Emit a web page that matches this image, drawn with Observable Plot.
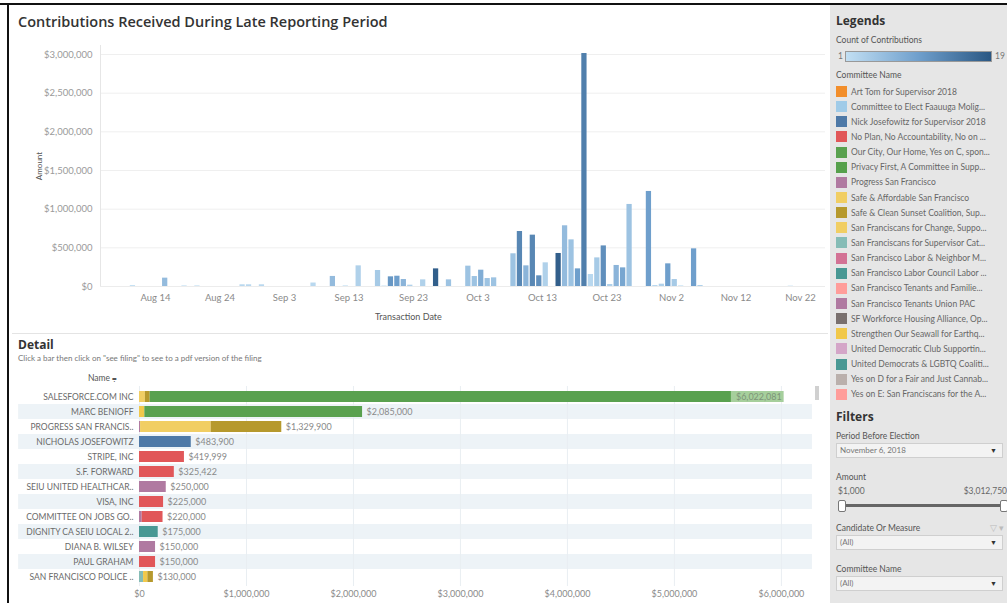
<!DOCTYPE html>
<html><head><meta charset="utf-8">
<script src="https://cdn.jsdelivr.net/npm/d3@7"></script>
<script src="https://cdn.jsdelivr.net/npm/@observablehq/plot@0.6"></script>
<style>
body{margin:0;width:1007px;height:603px;overflow:hidden;background:#fff;font-family:Lato,"Open Sans",sans-serif;position:relative}
.abs{position:absolute;white-space:nowrap}
#title{left:18px;top:12px;font:600 14.5px "Open Sans",sans-serif;color:#333}
#panel{left:830px;top:5px;width:177px;height:598px;background:#e6e6e6}
.h{font:700 12px "Open Sans",sans-serif;color:#333}
.lab{font-size:8.5px;color:#555}
.item{font-size:8.5px;color:#666;height:15.15px;line-height:12px;display:flex;align-items:center}
.sw{width:11px;height:11px;margin-right:4px;flex:none}
.dd{left:836px;width:167px;height:15px;background:#f3f3f3;border:1px solid #cfcfcf;box-sizing:border-box;font-size:8px;color:#777;line-height:13px;padding-left:3px}
.dd span{position:absolute;right:5px;top:0;color:#333;font-size:7px}
</style></head><body>
<div class="abs" style="left:0;top:3px;width:1007px;height:2px;background:#111"></div>
<div class="abs" style="left:7px;top:3px;width:2px;height:600px;background:#111"></div>
<div class="abs" id="title">Contributions Received During Late Reporting Period</div>
<div id="topchart" class="abs" style="left:0;top:30px"></div>
<div class="abs" style="left:375px;top:311px;font-size:9px;color:#555">Transaction Date</div>
<div class="abs" style="left:12px;top:333px;width:816px;height:1px;background:#e4e4e4"></div>
<div class="abs h" style="left:18px;top:336px">Detail</div>
<div class="abs" style="left:18px;top:353px;font-size:8px;color:#777">Click a bar then click on "see filing" to see to a pdf version of the filing</div>
<div class="abs" style="left:88px;top:373px;font-size:8.5px;color:#555">Name <span style="font-size:8px">⩦</span></div>
<div id="detail" class="abs" style="left:0;top:370px"></div>
<div class="abs" style="left:815px;top:386px;width:4px;height:14px;background:#d0d0d0"></div>
<div id="panel" class="abs"></div>
<script>
// ---------- top chart data ----------
const txDates = ["2018-08-10","2018-08-15","2018-08-18","2018-08-20","2018-08-27","2018-08-28","2018-08-30","2018-09-07","2018-09-10","2018-09-12","2018-09-14","2018-09-17","2018-09-18","2018-09-19","2018-09-20","2018-09-21","2018-09-22","2018-09-24","2018-09-26","2018-09-28","2018-10-01","2018-10-02","2018-10-03","2018-10-04","2018-10-05","2018-10-08","2018-10-09","2018-10-10","2018-10-11","2018-10-12","2018-10-13","2018-10-15","2018-10-16","2018-10-17","2018-10-18","2018-10-19","2018-10-20","2018-10-21","2018-10-22","2018-10-23","2018-10-24","2018-10-25","2018-10-26","2018-10-29","2018-10-30","2018-10-31","2018-11-01","2018-11-02","2018-11-03","2018-11-05","2018-11-06","2018-11-20"];
const txAmounts = [12000,108000,8000,8000,22000,22000,22000,45000,130000,8000,267000,207000,6000,125000,133000,90000,17000,86000,228000,86000,263000,129000,211000,103000,112000,423000,711000,267000,664000,138000,306000,427000,785000,603000,228000,3012750,155000,370000,525000,26000,272000,241000,1061000,1229000,13000,30000,293000,90000,8000,487000,13000,5000];
const txCounts = [1,6,1,1,2,2,2,2,6,1,3,4,1,11,10,7,3,3,18,5,5,5,8,5,5,5,13,7,13,12,3,18,6,5,10,14,2,4,12,3,7,9,5,10,2,3,10,4,1,10,3,1];
const yTicks = [0,500000,1000000,1500000,2000000,2500000,3000000];
const xTickDates = ["2018-08-14","2018-08-24","2018-09-03","2018-09-13","2018-09-23","2018-10-03","2018-10-13","2018-10-23","2018-11-02","2018-11-12","2018-11-22"];
const countDomain = [1,10,19];
const countRange = ["#c2dff3","#6f9fcc","#2a5783"];

// ---------- detail data ----------
const donorNames = ["SALESFORCE.COM INC","MARC BENIOFF","PROGRESS SAN FRANCIS..","NICHOLAS JOSEFOWITZ","STRIPE, INC","S.F. FORWARD","SEIU UNITED HEALTHCAR..","VISA, INC","COMMITTEE ON JOBS GO..","DIGNITY CA SEIU LOCAL 2..","DIANA B. WILSEY","PAUL GRAHAM","SAN FRANCISCO POLICE .."];
const donorTotals = [6022081,2085000,1329900,483900,419999,325422,250000,225000,220000,175000,150000,150000,130000];
const segDonor = ["SALESFORCE.COM INC","SALESFORCE.COM INC","SALESFORCE.COM INC","MARC BENIOFF","MARC BENIOFF","PROGRESS SAN FRANCIS..","PROGRESS SAN FRANCIS..","PROGRESS SAN FRANCIS..","NICHOLAS JOSEFOWITZ","STRIPE, INC","S.F. FORWARD","SEIU UNITED HEALTHCAR..","VISA, INC","COMMITTEE ON JOBS GO..","COMMITTEE ON JOBS GO..","DIGNITY CA SEIU LOCAL 2..","DIANA B. WILSEY","PAUL GRAHAM","SAN FRANCISCO POLICE ..","SAN FRANCISCO POLICE ..","SAN FRANCISCO POLICE .."];
const segCommittee = ["Safe & Affordable San Francisco","Safe & Clean Sunset Coalition, Sup...","Our City, Our Home, Yes on C, spon...","Strengthen Our Seawall for Earthq...","Our City, Our Home, Yes on C, spon...","San Francisco Tenants Union PAC","Safe & Affordable San Francisco","Safe & Clean Sunset Coalition, Sup...","Nick Josefowitz for Supervisor 2018","No Plan, No Accountability, No on ...","No Plan, No Accountability, No on ...","Progress San Francisco","No Plan, No Accountability, No on ...","Progress San Francisco","No Plan, No Accountability, No on ...","San Francisco Labor Council Labor ...","Progress San Francisco","No Plan, No Accountability, No on ...","San Franciscans for Supervisor Cat...","Strengthen Our Seawall for Earthq...","Safe & Clean Sunset Coalition, Sup..."];
const segAmount = [55000,45000,5922081,50000,2035000,10000,660000,659900,483900,419999,325422,250000,225000,25000,195000,175000,150000,150000,38000,40000,52000];
const detailTicks = [0,1000000,2000000,3000000,4000000,5000000,6000000];

// ---------- legend data ----------
const committeeNames = ["Art Tom for Supervisor 2018","Committee to Elect Faauuga Molig...","Nick Josefowitz for Supervisor 2018","No Plan, No Accountability, No on ...","Our City, Our Home, Yes on C, spon...","Privacy First, A Committee in Supp...","Progress San Francisco","Safe & Affordable San Francisco","Safe & Clean Sunset Coalition, Sup...","San Franciscans for Change, Suppo...","San Franciscans for Supervisor Cat...","San Francisco Labor & Neighbor M...","San Francisco Labor Council Labor ...","San Francisco Tenants and Familie...","San Francisco Tenants Union PAC","SF Workforce Housing Alliance, Op...","Strengthen Our Seawall for Earthq...","United Democratic Club Supportin...","United Democrats & LGBTQ Coaliti...","Yes on D for a Fair and Just Cannab...","Yes on E: San Franciscans for the A..."];
const committeeColors = ["#f28e2b","#a0cbe8","#4e79a7","#e15759","#59a14f","#56a04c","#b07aa1","#f1ce63","#b6992d","#f1ce63","#86bcb6","#d37295","#499894","#ff9d9a","#b07aa1","#79706e","#f1c84a","#d4a6c8","#499894","#bab0ac","#ff9d9a"];

// ---------- top chart ----------
const tx = txDates.map((d,i)=>({date:new Date(d+"T00:00:00Z"), amount:txAmounts[i], count:txCounts[i]}));
const xStart = new Date(Date.UTC(2018,7,5,11,20));
const topChart = Plot.plot({
  width:830, height:296, marginLeft:100, marginRight:5, marginTop:15, marginBottom:40,
  style:{fontFamily:"Lato, sans-serif", fontSize:"9.5px", color:"#9a9a9a", background:"transparent"},
  x:{type:"utc", domain:[xStart, new Date(Date.UTC(2018,10,25,21))], label:null},
  y:{domain:[0,3116400], label:null},
  color:{type:"linear", domain:countDomain, range:countRange, interpolate:"rgb"},
  marks:[
    Plot.gridY(yTicks,{stroke:"#efefef", strokeOpacity:1}),
    Plot.ruleX([xStart],{stroke:"#e6e6e6"}),
    Plot.rectY(tx,{x1:"date", x2:d=>d3.utcDay.offset(d.date,1), y:"amount", fill:"count", insetLeft:0.6, insetRight:0.6}),
    Plot.ruleY([0],{stroke:"#ececec"}),
    Plot.axisY(yTicks,{tickFormat:d3.format("$,"), tickSize:0, tickPadding:8, label:"Amount", labelAnchor:"center", labelArrow:"none", labelOffset:64, fill:"#9a9a9a"}),
    Plot.axisX(xTickDates.map(d=>new Date(d+"T00:00:00Z")),{tickFormat:d3.utcFormat("%b %-d"), tickSize:0, tickPadding:8, label:null, fill:"#8a8a8a"})
  ]
});
document.getElementById("topchart").appendChild(topChart);
d3.select(topChart).selectAll("[aria-label='y-axis label'] text").attr("fill","#555").style("font-size","8px");

// ---------- detail chart ----------
const segs = segDonor.map((d,i)=>({donor:d, committee:segCommittee[i], amount:segAmount[i]}));
const tots = donorNames.map((d,i)=>({donor:d, total:donorTotals[i]}));
const fmt = d3.format("$,");
const big = d=>d.total>=5000000;
const detail = Plot.plot({
  width:830, height:236, marginLeft:139, marginRight:17, marginTop:16, marginBottom:20,
  style:{fontFamily:"Lato, sans-serif", fontSize:"9px", color:"#8a8a8a", background:"transparent"},
  x:{domain:[0,6300000], label:null},
  y:{domain:donorNames, padding:0, label:null},
  color:{domain:committeeNames, range:committeeColors},
  marks:[
    Plot.barX(donorNames,{y:d=>d, x1:()=>-1130000, x2:()=>6290000, fill:"#edf3f7", filter:(d,i)=>i%2===1}),
    Plot.gridX(detailTicks,{stroke:"#e9eef2", strokeOpacity:1}),
    Plot.barX(segs,{y:"donor", x:"amount", fill:"committee", insetTop:2, insetBottom:2}),
    Plot.barX(tots,{filter:big, y:"donor", x1:d=>d.total-490000, x2:"total", fill:"#a6cf9c", insetTop:2, insetBottom:2}),
    Plot.ruleX(tots,{filter:big, x:"total", y:"donor", stroke:"#6d8f66", insetTop:2, insetBottom:2}),
    Plot.text(tots,{filter:d=>!big(d), x:"total", y:"donor", text:d=>fmt(d.total), textAnchor:"start", dx:4, fill:"#8a8a8a", fontSize:9}),
    Plot.text(tots,{filter:big, x:"total", y:"donor", text:d=>fmt(d.total), textAnchor:"end", dx:-2, fill:"#7d9478", fontSize:9}),
    Plot.axisY({tickSize:0, tickPadding:6, fill:"#6a6a6a", fontSize:8.5, label:null}),
    Plot.axisX(detailTicks,{tickFormat:fmt, tickSize:0, tickPadding:4, label:null, fill:"#8a8a8a"})
  ]
});
document.getElementById("detail").appendChild(detail);

// ---------- right panel ----------
const panel = document.getElementById("panel");
let html = `<div class="abs h" style="left:6px;top:7px">Legends</div>
<div class="abs lab" style="left:6px;top:30px">Count of Contributions</div>
<div class="abs lab" style="left:8px;top:46px;color:#777">1</div>
<div class="abs" style="left:15px;top:46px;width:147px;height:11px;border:1px solid #999;box-sizing:border-box;background:linear-gradient(to right,${countRange[0]},${countRange[1]},${countRange[2]})"></div>
<div class="abs lab" style="left:165px;top:46px;color:#777">19</div>
<div class="abs lab" style="left:6px;top:65px">Committee Name</div>
<div class="abs" style="left:6px;top:79px">`;
committeeNames.forEach((n,i)=>{ html += `<div class="item"><div class="sw" style="background:${committeeColors[i]}"></div>${n}</div>`; });
html += `</div>
<div class="abs h" style="left:6px;top:403px">Filters</div>
<div class="abs lab" style="left:6px;top:426px">Period Before Election</div>
<div class="abs dd" style="left:6px;top:438px">November 6, 2018<span>▼</span></div>
<div class="abs lab" style="left:6px;top:467px">Amount</div>
<div class="abs lab" style="left:8px;top:481px;color:#666">$1,000</div>
<div class="abs lab" style="right:0px;top:481px;color:#666">$3,012,750</div>
<div class="abs" style="left:13px;top:499px;width:162px;height:3px;background:#666"></div>
<div class="abs" style="left:8px;top:495px;width:6px;height:10px;background:#fff;border:1px solid #777;border-radius:2px"></div>
<div class="abs" style="left:170px;top:495px;width:6px;height:10px;background:#fff;border:1px solid #777;border-radius:2px"></div>
<div class="abs lab" style="left:6px;top:518px">Candidate Or Measure</div>
<div class="abs lab" style="left:160px;top:518px;color:#bbb">▽ ▾</div>
<div class="abs dd" style="left:6px;top:530px">(All)<span>▼</span></div>
<div class="abs lab" style="left:6px;top:559px">Committee Name</div>
<div class="abs dd" style="left:6px;top:571px">(All)<span>▼</span></div>`;
panel.innerHTML = html;
</script>
</body></html>
